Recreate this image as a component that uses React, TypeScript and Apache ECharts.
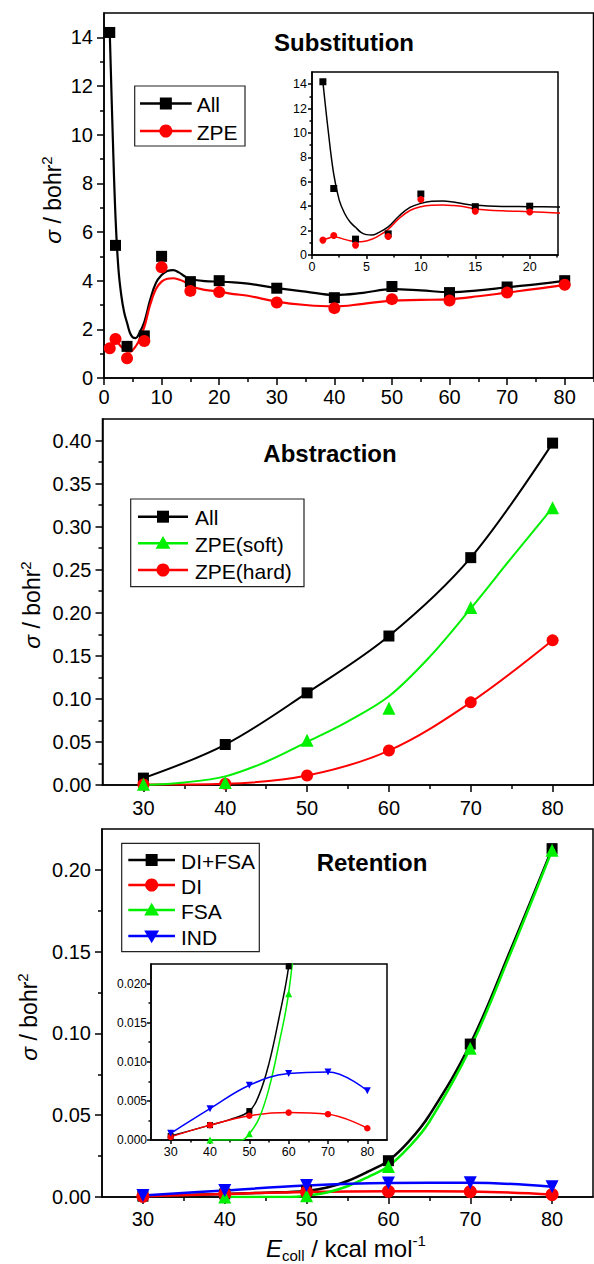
import React, { useEffect, useRef } from "react";
import * as echarts from "echarts";

const FONT = "Liberation Sans";

// ---------- Substitution ----------
const subX = [1, 2, 4, 7, 10, 15, 20, 30, 40, 50, 60, 70, 80];
const subAll = [14.2, 5.45, 1.3, 1.73, 5.0, 3.96, 4.0, 3.69, 3.3, 3.76, 3.51, 3.74, 4.0];
const subZPE = [1.22, 1.6, 0.81, 1.52, 4.55, 3.58, 3.53, 3.1, 2.87, 3.24, 3.18, 3.51, 3.83];
const subFitX = [1, 1.5, 2, 2.5, 3, 3.5, 4, 4.5, 5, 5.5, 6, 7, 8, 9, 10, 11, 12, 13, 14, 15, 17.5, 20, 22.5, 25, 30, 35, 40, 45, 50, 55, 60, 65, 70, 75, 80];
const subAllFit = [14.2, 10.1, 6.6, 4.5, 3.4, 2.7, 2.27, 1.86, 1.67, 1.64, 1.78, 2.3, 3.2, 3.9, 4.23, 4.4, 4.43, 4.34, 4.18, 4.07, 3.98, 3.96, 3.93, 3.88, 3.69, 3.55, 3.41, 3.5, 3.65, 3.6, 3.53, 3.6, 3.73, 3.85, 3.99];
const subZPEFit = [1.23, 1.37, 1.5, 1.42, 1.28, 1.17, 1.09, 1.08, 1.15, 1.3, 1.5, 2.1, 3.0, 3.65, 3.96, 4.08, 4.1, 4.05, 3.95, 3.78, 3.62, 3.55, 3.45, 3.38, 3.14, 3.0, 2.94, 3.05, 3.18, 3.21, 3.24, 3.36, 3.51, 3.66, 3.83];
const subXMajor = [0, 10, 20, 30, 40, 50, 60, 70, 80];
const subXMinor = [5, 15, 25, 35, 45, 55, 65, 75, 85];
const subYMajor = [0, 2, 4, 6, 8, 10, 12, 14];
const subYMinor = [1, 3, 5, 7, 9, 11, 13];
const subInXMajor = [0, 5, 10, 15, 20];
const subInXMinor = [2.5, 7.5, 12.5, 17.5, 22.5];

// ---------- Abstraction ----------
const absX = [30, 40, 50, 60, 70, 80];
const absAll = [0.008, 0.047, 0.107, 0.173, 0.264, 0.397];
const absSoft = [0.001, 0.003, 0.052, 0.089, 0.206, 0.322];
const absHard = [0.0005, 0.0015, 0.011, 0.04, 0.096, 0.168];
const absSoftFitX = [30, 35, 40, 45, 50, 55, 60, 65, 70, 75, 80];
const absSoftFit = [0, 0.003, 0.01, 0.027, 0.05, 0.074, 0.103, 0.149, 0.205, 0.264, 0.322];
const eXMajor = [30, 40, 50, 60, 70, 80];
const eXMinor = [35, 45, 55, 65, 75];
const absYMajor = [0, 0.05, 0.1, 0.15, 0.2, 0.25, 0.3, 0.35, 0.4];
const absYMinor = [0.025, 0.075, 0.125, 0.175, 0.225, 0.275, 0.325, 0.375];

// ---------- Retention ----------
const retX = [30, 40, 50, 60, 70, 80];
const retDIFSA = [0.0005, 0.0019, 0.0037, 0.0222, 0.0935, 0.213];
const retDI = [0.0004, 0.0019, 0.0031, 0.0035, 0.0033, 0.0015];
const retFSAX = [40, 50, 60, 70, 80];
const retFSA = [0.0, 0.0008, 0.0187, 0.091, 0.212];
const retIND = [0.00085, 0.004, 0.007, 0.0085, 0.0087, 0.0063];
const retDIFSAFitX = [30, 35, 40, 45, 50, 52.5, 55, 57.5, 60, 62.5, 65, 70, 75, 80];
const retDIFSAFit = [0.0005, 0.0012, 0.0019, 0.0026, 0.0037, 0.0058, 0.0098, 0.0155, 0.0222, 0.034, 0.05, 0.0935, 0.152, 0.213];
const retFSAFitX = [40, 45, 48, 50, 52.5, 55, 57.5, 60, 62.5, 65, 70, 75, 80];
const retFSAFit = [0, 0, 0, 0.0008, 0.0028, 0.0066, 0.0122, 0.0188, 0.0305, 0.046, 0.091, 0.15, 0.212];
const retYMajor = [0, 0.05, 0.1, 0.15, 0.2];
const retYMinor = [0.025, 0.075, 0.125, 0.175];
const retInYMajor = [0, 0.005, 0.01, 0.015, 0.02];
const retInYMinor = [0.0025, 0.0075, 0.0125, 0.0175];

const BLACK = "#000000";
const RED = "#ff0000";
const GREEN = "#00f000";
const BLUE = "#0000ff";

function axisPair(dim: "x" | "y", gridIndex: number, min: number, max: number, major: number[], minor: number[], fs: number, margin: number, fmt: (v: number) => string, majLen: number, minLen: number) {
  const position = dim === "x" ? "bottom" : "left";
  const ls = { color: "#000", width: 1.5 };
  return [
    {
      type: "value", gridIndex, min, max, position,
      axisLine: { show: true, onZero: false, lineStyle: ls },
      axisTick: { show: true, inside: false, length: majLen, customValues: major, lineStyle: ls },
      axisLabel: { show: true, customValues: major, formatter: fmt, color: "#000", fontSize: fs, fontFamily: FONT, margin },
      splitLine: { show: false },
    },
    {
      type: "value", gridIndex, min, max, position,
      axisLine: { show: false, onZero: false },
      axisTick: { show: true, inside: false, length: minLen, customValues: minor, lineStyle: ls },
      axisLabel: { show: false },
      splitLine: { show: false },
    },
  ];
}

function pairs(xs: number[], ys: number[]) {
  return xs.map((x, i) => [x, ys[i]]);
}

function curve(gi: number, xs: number[], ys: number[], color: string, width: number, smooth = 0.5) {
  return {
    type: "line", xAxisIndex: 2 * gi, yAxisIndex: 2 * gi, data: pairs(xs, ys),
    showSymbol: false, symbol: "none", smooth, lineStyle: { color, width }, itemStyle: { color }, z: 2, silent: true,
  };
}

function marks(gi: number, xs: number[], ys: number[], color: string, symbol: string, size: number, rotate = 0) {
  return {
    type: "scatter", xAxisIndex: 2 * gi, yAxisIndex: 2 * gi, data: pairs(xs, ys),
    symbol, symbolSize: size, symbolRotate: rotate, itemStyle: { color, opacity: 1 }, z: 3, silent: true,
  };
}

function markerGraphic(kind: string, cx: number, cy: number, color: string, s: number) {
  if (kind === "rect") return { type: "rect", shape: { x: cx - s / 2, y: cy - s / 2, width: s, height: s }, style: { fill: color } };
  if (kind === "circle") return { type: "circle", shape: { cx, cy, r: s / 2 + 0.5 }, style: { fill: color } };
  if (kind === "tri") return { type: "polygon", shape: { points: [[cx, cy - s * 0.6], [cx + s * 0.62, cy + s * 0.45], [cx - s * 0.62, cy + s * 0.45]] }, style: { fill: color } };
  return { type: "polygon", shape: { points: [[cx, cy + s * 0.6], [cx + s * 0.62, cy - s * 0.45], [cx - s * 0.62, cy - s * 0.45]] }, style: { fill: color } };
}

function legend(box: number[], items: { label: string; color: string; kind: string; y: number }[], x1: number, x2: number, tx: number) {
  const els: any[] = [
    { type: "rect", shape: { x: box[0], y: box[1], width: box[2], height: box[3] }, style: { fill: "#fff", stroke: "#222", lineWidth: 1.2 }, z: 10 },
  ];
  items.forEach((it) => {
    els.push({ type: "line", shape: { x1, y1: it.y, x2, y2: it.y }, style: { stroke: it.color, lineWidth: 2.4 }, z: 11 });
    els.push({ ...markerGraphic(it.kind, (x1 + x2) / 2, it.y, it.color, 12), z: 12 });
    els.push({
      type: "text", x: tx, y: it.y + 1, z: 12,
      style: { text: it.label, fontSize: 21, fontFamily: FONT, fill: "#000", align: "left", verticalAlign: "middle", textAlign: "left", textVerticalAlign: "middle" },
    });
  });
  return els;
}

const sigmaRich = {
  s: { fontSize: 23, fontStyle: "italic", fontFamily: FONT, lineHeight: 28, verticalAlign: "middle" },
  n: { fontSize: 23, fontFamily: FONT, lineHeight: 28, verticalAlign: "middle" },
  p: { fontSize: 15, fontFamily: FONT, lineHeight: 15, verticalAlign: "top" },
};

function yTitle(x: number, y: number) {
  return {
    type: "text", x, y, rotation: Math.PI / 2, z: 20,
    style: { text: "{s|σ}{n| / bohr}{p|2}", rich: sigmaRich, fill: "#000", align: "center", verticalAlign: "middle", textAlign: "center", textVerticalAlign: "middle" },
  };
}

function title(text: string, x: number, y: number) {
  return {
    type: "text", x, y, z: 20,
    style: { text, fontSize: 24, fontWeight: "bold", fontFamily: FONT, fill: "#000", align: "center", verticalAlign: "middle", textAlign: "center", textVerticalAlign: "middle" },
  };
}

export default function App() {
  const ref = useRef<HTMLDivElement>(null);
  useEffect(() => {
    if (!ref.current) return;
    const chart = echarts.init(ref.current, undefined, { renderer: "svg" });
    const intFmt = (v: number) => String(v);
    const f2 = (v: number) => v.toFixed(2);
    const f3 = (v: number) => v.toFixed(3);

    const grids = [
      { left: 104, top: 13, width: 489.5, height: 365 },
      { left: 312, top: 72, width: 246, height: 183 },
      { left: 102.5, top: 419, width: 491, height: 366 },
      { left: 102, top: 829, width: 491, height: 368 },
      { left: 151, top: 964, width: 236, height: 176 },
    ].map((g, i) => ({ ...g, show: true, borderColor: "#000", borderWidth: 1.5, backgroundColor: i === 1 || i === 4 ? "#fff" : "transparent", containLabel: false }));

    const xAxis = [
      ...axisPair("x", 0, 0, 85, subXMajor, subXMinor, 20, 9, intFmt, 7, 4),
      ...axisPair("x", 1, 0, 22.6, subInXMajor, subInXMinor, 12.5, 5, intFmt, 4, 2.5),
      ...axisPair("x", 2, 25, 85, eXMajor, eXMinor, 20, 13, intFmt, 7, 4),
      ...axisPair("x", 3, 25, 85, eXMajor, eXMinor, 20, 12, intFmt, 7, 4),
      ...axisPair("x", 4, 25, 85, eXMajor, eXMinor, 12.5, 5, intFmt, 4, 2.5),
    ];
    const yAxis = [
      ...axisPair("y", 0, 0, 15, subYMajor, subYMinor, 20, 11, intFmt, 7, 4),
      ...axisPair("y", 1, 0, 15, subYMajor, subYMinor, 12.5, 5, intFmt, 4, 2.5),
      ...axisPair("y", 2, 0, 0.425, absYMajor, absYMinor, 20, 11, f2, 7, 4),
      ...axisPair("y", 3, 0, 0.225, retYMajor, retYMinor, 20, 11, f2, 7, 4),
      ...axisPair("y", 4, 0, 0.0225, retInYMajor, retInYMinor, 12, 4, f3, 4, 2.5),
    ];

    const series = [
      // Substitution main
      curve(0, subFitX, subAllFit, BLACK, 2.2, 0.4),
      curve(0, subFitX, subZPEFit, RED, 2.2, 0.4),
      marks(0, subX, subAll, BLACK, "rect", 11),
      marks(0, subX, subZPE, RED, "circle", 12),
      // Substitution inset
      curve(1, subFitX, subAllFit, BLACK, 1.5, 0.4),
      curve(1, subFitX, subZPEFit, RED, 1.5, 0.4),
      marks(1, subX, subAll, BLACK, "rect", 7),
      marks(1, subX, subZPE, RED, "circle", 7),
      // Abstraction
      curve(2, absX, absAll, BLACK, 2, 0.35),
      curve(2, absX, absHard, RED, 2, 0.35),
      curve(2, absSoftFitX, absSoftFit, GREEN, 2, 0.35),
      marks(2, absX, absAll, BLACK, "rect", 11),
      marks(2, absX, absHard, RED, "circle", 12),
      marks(2, absX, absSoft, GREEN, "triangle", 13),
      // Retention main
      curve(3, retDIFSAFitX, retDIFSAFit, BLACK, 2.5, 0.4),
      curve(3, retX, retDI, RED, 2.5, 0.4),
      curve(3, retFSAFitX, retFSAFit, GREEN, 2.5, 0.4),
      curve(3, retX, retIND, BLUE, 2.5, 0.4),
      marks(3, retX, retDIFSA, BLACK, "rect", 11),
      marks(3, retX, retDI, RED, "circle", 13),
      marks(3, retFSAX, retFSA, GREEN, "triangle", 13),
      marks(3, retX, retIND, BLUE, "triangle", 13, 180),
      // Retention inset
      curve(4, retDIFSAFitX, retDIFSAFit, BLACK, 1.5, 0.4),
      curve(4, retX, retDI, RED, 1.5, 0.4),
      curve(4, retFSAFitX, retFSAFit, GREEN, 1.5, 0.4),
      curve(4, retX, retIND, BLUE, 1.5, 0.4),
      marks(4, retX, retDIFSA, BLACK, "rect", 6),
      marks(4, retX, retDI, RED, "circle", 6.5),
      marks(4, retFSAX, retFSA, GREEN, "triangle", 7),
      marks(4, retX, retIND, BLUE, "triangle", 7, 180),
    ];

    const graphic = [
      title("Substitution", 344, 42),
      title("Abstraction", 330, 453),
      title("Retention", 372, 862),
      yTitle(53, 200),
      yTitle(32, 605),
      yTitle(29, 1017),
      {
        type: "text", x: 266, y: 1248, z: 20,
        style: {
          text: "{e|E}{b|coll}{n| / kcal mol}{p|-1}",
          rich: {
            e: { fontSize: 24, fontStyle: "italic", fontFamily: FONT, lineHeight: 30, verticalAlign: "middle" },
            b: { fontSize: 15, fontFamily: FONT, lineHeight: 15, verticalAlign: "bottom" },
            n: { fontSize: 24, fontFamily: FONT, lineHeight: 30, verticalAlign: "middle" },
            p: { fontSize: 15, fontFamily: FONT, lineHeight: 15, verticalAlign: "top" },
          },
          fill: "#000", align: "left", verticalAlign: "middle", textAlign: "left", textVerticalAlign: "middle",
        },
      },
      ...legend([134.7, 86, 110.3, 60], [
        { label: "All", color: BLACK, kind: "rect", y: 103.5 },
        { label: "ZPE", color: RED, kind: "circle", y: 131 },
      ], 140, 191.7, 196.7),
      ...legend([130.7, 499, 173.3, 87.7], [
        { label: "All", color: BLACK, kind: "rect", y: 516.7 },
        { label: "ZPE(soft)", color: GREEN, kind: "tri", y: 543.3 },
        { label: "ZPE(hard)", color: RED, kind: "circle", y: 570 },
      ], 138, 188, 195),
      ...legend([121.7, 843.3, 137.6, 108.4], [
        { label: "DI+FSA", color: BLACK, kind: "rect", y: 860 },
        { label: "DI", color: RED, kind: "circle", y: 885 },
        { label: "FSA", color: GREEN, kind: "tri", y: 910 },
        { label: "IND", color: BLUE, kind: "itri", y: 936 },
      ], 128.3, 175, 181),
    ];

    chart.setOption({
      animation: false,
      backgroundColor: "#fff",
      grid: grids,
      xAxis,
      yAxis,
      series,
      graphic,
    });
    return () => chart.dispose();
  }, []);
  return <div ref={ref} style={{ position: "absolute", left: 0, top: 0, width: 594, height: 1264 }} />;
}
